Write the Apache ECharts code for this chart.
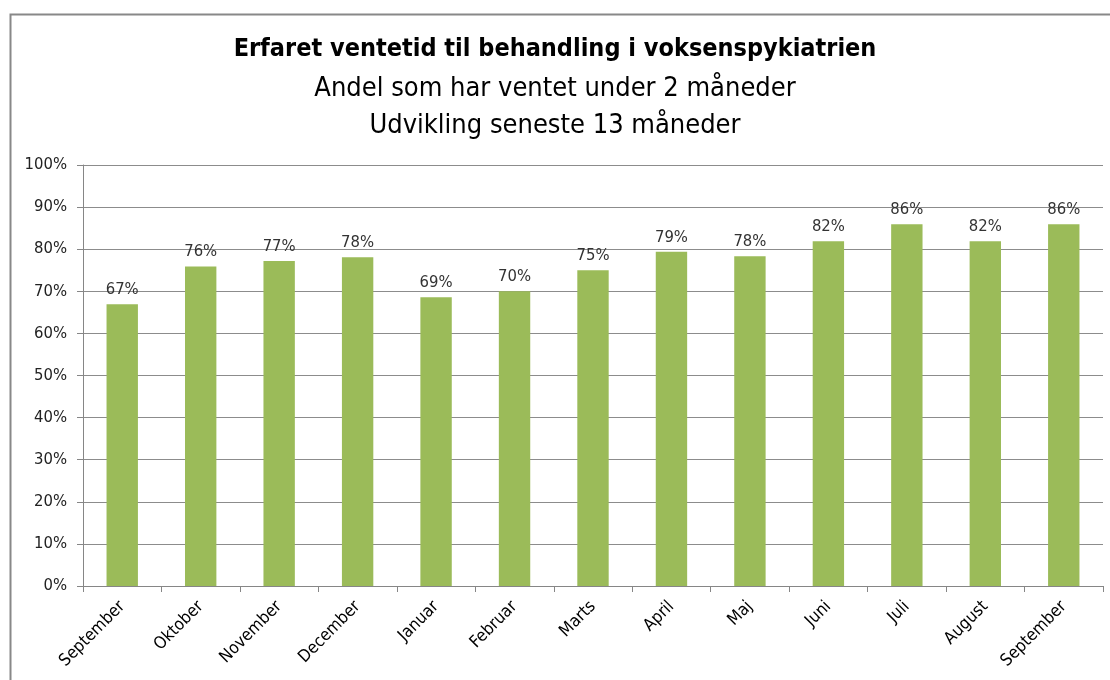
<!DOCTYPE html>
<html>
<head>
<meta charset="utf-8">
<script src="https://cdn.jsdelivr.net/npm/echarts@6/dist/echarts.min.js"></script>
<style>
    html, body { margin: 0; padding: 0; background: #fff; }
    #chart { width: 1110px; height: 680px; }
</style>
</head>
<body>
<div id="chart"></div>
<script>
    // maaneder (x-akse)
    var months = ['September', 'Oktober', 'November', 'December', 'Januar', 'Februar', 'Marts',
        'April', 'Maj', 'Juni', 'Juli', 'August', 'September'];
    // andel som har ventet under 2 maaneder, i procent
    var shares = [66.9, 75.9, 77.2, 78.1, 68.6, 70.0, 75.0, 79.4, 78.3, 81.9, 85.9, 81.9, 85.9];
    var yTicks = [0, 10, 20, 30, 40, 50, 60, 70, 80, 90, 100];

    var fontFam = '"Liberation Sans Narrow", "DejaVu Sans Condensed", "Noto Sans", sans-serif';

    var myChart = echarts.init(document.getElementById('chart'));

    var option = {
        animation: false,
        backgroundColor: '#fff',
        title: [
            {
                text: 'Erfaret ventetid til behandling i voksenspykiatrien',
                left: 'center',
                top: 32,
                textStyle: { fontFamily: fontFam, fontSize: 25, fontWeight: 'bold', color: '#000' }
            },
            {
                text: 'Andel som har ventet under 2 måneder\nUdvikling seneste 13 måneder',
                left: 'center',
                top: 65,
                textStyle: { fontFamily: fontFam, fontSize: 27, fontWeight: 'normal', color: '#000', lineHeight: 37 }
            }
        ],
        graphic: [
            {
                type: 'rect',
                shape: { x: 10.5, y: 14.5, width: 1200, height: 700 },
                style: { fill: 'none', stroke: '#888', lineWidth: 2 },
                silent: true
            }
        ],
        grid: { left: 83, right: 7, top: 165, bottom: 94 },
        xAxis: {
            type: 'category',
            data: months,
            axisLine: { lineStyle: { color: '#868686' } },
            axisTick: { show: true, alignWithLabel: false, length: 6, lineStyle: { color: '#868686' } },
            axisLabel: {
                rotate: 45,
                interval: 0,
                margin: 18,
                fontFamily: fontFam,
                fontSize: 17,
                color: '#000'
            }
        },
        yAxis: {
            type: 'value',
            min: 0,
            max: 100,
            interval: 10,
            axisLine: { show: true, lineStyle: { color: '#868686' } },
            axisTick: { show: true, length: 6, lineStyle: { color: '#868686' } },
            splitLine: { lineStyle: { color: '#8c8c8c', width: 1 } },
            axisLabel: {
                margin: 16,
                fontFamily: fontFam,
                fontSize: 16.5,
                color: '#222',
                formatter: function (v) {
                    return yTicks.indexOf(v) >= 0 ? v + '%' : '';
                }
            }
        },
        series: [
            {
                type: 'bar',
                data: shares,
                barWidth: '40%',
                itemStyle: { color: '#9BBB59' },
                label: {
                    show: true,
                    position: 'top',
                    distance: 6,
                    fontFamily: fontFam,
                    fontSize: 16.5,
                    color: '#333',
                    formatter: function (p) {
                        return Math.round(p.value) + '%';
                    }
                }
            }
        ]
    };

    myChart.setOption(option);
</script>
</body>
</html>
